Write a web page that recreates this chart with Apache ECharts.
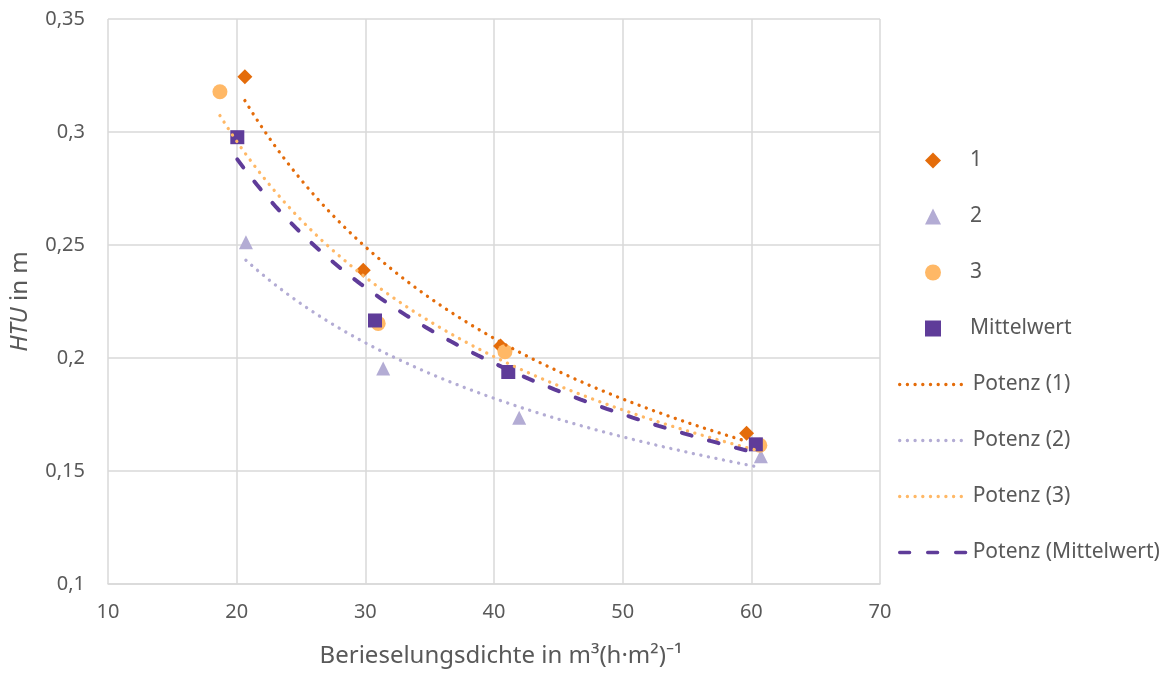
<!DOCTYPE html>
<html>
<head>
<meta charset="utf-8">
<script src="https://cdn.jsdelivr.net/npm/echarts@6/dist/echarts.min.js"></script>
<style>html,body{margin:0;padding:0;background:#fff}#c{width:1169px;height:673px}</style>
</head>
<body>
<div id="c"></div>
<script>
// Measured data (Berieselungsdichte, HTU)
const x1 = [20.64, 29.84, 40.51, 59.63];
const y1 = [0.3245, 0.2388, 0.2053, 0.1667];
const x2 = [20.72, 31.39, 41.96, 60.74];
const y2 = [0.2512, 0.1953, 0.1736, 0.1565];
const x3 = [18.70, 31.00, 40.85, 60.66];
const y3 = [0.3178, 0.2153, 0.2028, 0.1614];
const xM = [20.05, 30.75, 41.11, 60.35];
const yM = [0.2977, 0.2166, 0.1938, 0.1618];
const seriesNames = ['1', '2', '3', 'Mittelwert'];
const trendNames = ['Potenz (1)', 'Potenz (2)', 'Potenz (3)', 'Potenz (Mittelwert)'];
const xTicks = [10, 20, 30, 40, 50, 60, 70];
const yTicks = [0.1, 0.15, 0.2, 0.25, 0.3, 0.35];

const colors = ['#e46c0a', '#b3acd4', '#ffb866', '#5f3c99'];
const symbols = ['diamond', 'triangle', 'circle', 'rect'];
const symbolSizes = [15, 14, 15, 14];

function pairs(xs, ys) { return xs.map((x, i) => [x, ys[i]]); }

// Power trendline (least squares on ln x / ln y), like the spreadsheet's "Potenz" trend
function powerTrend(xs, ys) {
  const lx = xs.map(Math.log), ly = ys.map(Math.log);
  const n = xs.length;
  const mx = lx.reduce((a, b) => a + b, 0) / n, my = ly.reduce((a, b) => a + b, 0) / n;
  let sxy = 0, sxx = 0;
  for (let i = 0; i < n; i++) { sxy += (lx[i] - mx) * (ly[i] - my); sxx += (lx[i] - mx) ** 2; }
  const b = sxy / sxx, a = Math.exp(my - b * mx);
  const lo = Math.min(...xs), hi = Math.max(...xs);
  const pts = [];
  const N = 80;
  for (let k = 0; k <= N; k++) {
    const x = lo + (hi - lo) * k / N;
    pts.push([x, a * Math.pow(x, b)]);
  }
  return pts;
}

const xs = [x1, x2, x3, xM], ys = [y1, y2, y3, yM];
const series = [];
for (let i = 0; i < 4; i++) {
  series.push({
    name: seriesNames[i], type: 'scatter', symbol: symbols[i], symbolSize: symbolSizes[i],
    itemStyle: { color: colors[i], opacity: 1 }, data: pairs(xs[i], ys[i]), z: 2
  });
}
const dotStyle = (c) => ({ color: c, width: 3.3, type: [0.1, 7.6], cap: 'round' });
for (let i = 0; i < 4; i++) {
  const ls = i === 3 ? { color: colors[3], width: 4, type: [10, 18], cap: 'round' } : dotStyle(colors[i]);
  series.push({
    name: trendNames[i], type: 'line', symbol: 'none', showSymbol: false, smooth: false,
    lineStyle: ls, itemStyle: { color: colors[i] }, data: powerTrend(xs[i], ys[i]), z: 3
  });
}

const fmtY = v => String(+v.toFixed(2)).replace('.', ',');
const legendText = { color: '#595959', fontSize: 21, fontFamily: 'Noto Sans', lineHeight: 21 };
const chart = echarts.init(document.getElementById('c'), null, { renderer: 'canvas' });
chart.setOption({
  animation: false,
  backgroundColor: '#fff',
  textStyle: { fontFamily: 'Noto Sans' },
  grid: { left: 108, right: 289, top: 19, bottom: 88, containLabel: false },
  xAxis: {
    type: 'value', min: xTicks[0], max: xTicks[xTicks.length - 1], interval: 10,
    axisLine: { lineStyle: { color: '#d9d9d9', width: 1.5 } },
    axisTick: { show: false },
    splitLine: { lineStyle: { color: '#d9d9d9', width: 1.5 } },
    axisLabel: { color: '#595959', fontSize: 20, margin: 18, fontFamily: 'Noto Sans' },
    name: 'Berieselungsdichte in m³(h·m²)⁻¹', nameLocation: 'middle', nameGap: 60,
    nameTextStyle: { color: '#595959', fontSize: 24, fontFamily: 'Noto Sans', padding: [0, 0, 0, 14] }
  },
  yAxis: {
    type: 'value', min: yTicks[0], max: yTicks[yTicks.length - 1], interval: 0.05,
    axisLine: { show: false },
    axisTick: { show: false },
    splitLine: { lineStyle: { color: '#d9d9d9', width: 1.5 } },
    axisLabel: { color: '#595959', fontSize: 20, margin: 23, formatter: fmtY, fontFamily: 'Noto Sans' },
    name: '{i|HTU} in m', nameLocation: 'middle', nameGap: 76, nameRotate: 90,
    nameTextStyle: { color: '#595959', fontSize: 24, fontFamily: 'Noto Sans',
      rich: { i: { fontStyle: 'italic', color: '#595959', fontSize: 24, fontFamily: 'Noto Sans' } } }
  },
  legend: [
    {
      orient: 'vertical', left: 920, top: 145, itemWidth: 16, itemHeight: 16, itemGap: 35,
      textStyle: Object.assign({ padding: [0, 0, 0, 24] }, legendText),
      data: seriesNames
    },
    {
      orient: 'vertical', left: 893, top: 369, itemWidth: 68, itemHeight: 14, itemGap: 35,
      textStyle: Object.assign({ padding: [0, 0, 0, 0] }, legendText),
      itemStyle: { color: 'rgba(0,0,0,0)', opacity: 0, borderWidth: 0 },
      lineStyle: { width: 3.3 },
      data: trendNames
    }
  ],
  series: series
});
</script>
</body>
</html>
